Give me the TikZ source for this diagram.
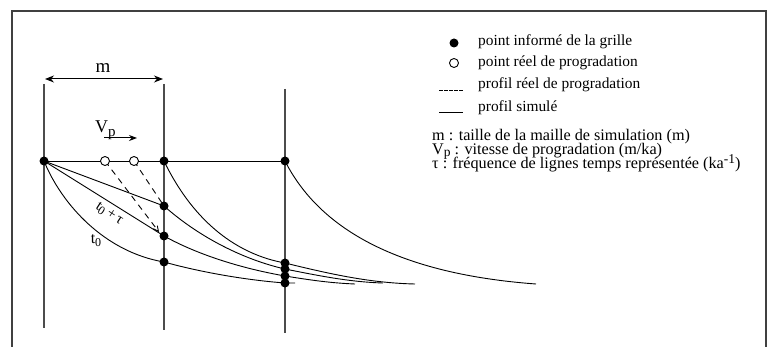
\documentclass[tikz,border=0pt]{standalone}
\usepackage{fontspec}
\setmainfont{Liberation Serif}
\usetikzlibrary{arrows.meta}
\begin{document}
\begin{tikzpicture}[x=1pt,y=-1pt,
  grid/.style={draw=black!70,line width=1.1pt},
  frame/.style={draw=black!75,line width=1.3pt},
  prof/.style={draw=black,line width=0.9pt},
  real/.style={draw=black,line width=0.9pt,dash pattern=on 6pt off 5pt},
  fdot/.style={circle,fill=black,inner sep=0pt,minimum size=9pt},
  odot/.style={circle,draw=black,fill=white,line width=0.9pt,inner sep=0pt,minimum size=9pt},
  leg/.style={anchor=base west,inner sep=0pt,font=\fontsize{15.4}{15.4}\selectfont},
  defn/.style={anchor=base west,inner sep=0pt,font=\fontsize{16.2}{16.2}\selectfont},
  lab/.style={inner sep=0pt}]
\useasboundingbox (0,0) rectangle (772,347);
% frame
\draw[frame] (12,360) -- (12,11) -- (766,11) -- (766,360);
% grid verticals
\coordinate (v1t) at (44,84);  \coordinate (v1b) at (44,328);
\coordinate (v2t) at (164,84); \coordinate (v2b) at (164,330);
\coordinate (v3t) at (285,89); \coordinate (v3b) at (285,333);
\draw[grid] (v1t) -- (v1b);
\draw[grid] (v2t) -- (v2b);
\draw[grid] (v3t) -- (v3b);
% points
\coordinate (A) at (44,161);
\coordinate (B0) at (164,161);
\coordinate (B1) at (164,206);
\coordinate (B2) at (164,236);
\coordinate (B3) at (164,262);
\coordinate (C1) at (285,263);
\coordinate (C2) at (285,269);
\coordinate (C3) at (285,276);
\coordinate (C4) at (285,283);
\coordinate (D0) at (285,161);
\coordinate (O1) at (105,161);
\coordinate (O2) at (134,161);
% horizontal line
\draw[prof] (A) -- (D0);
% profiles from first column
\draw[prof] (A) .. controls (84,176) and (124,191) .. (B1);
\draw[prof] (A) .. controls (84,186) and (124,211) .. (B2);
\draw[prof] (A) .. controls (62,205) and (105,252) .. (B3);
% continuations
\draw[prof] (B0) .. controls (195,225) and (240,255) .. (C1)
  .. controls (330,274) and (370,283) .. (415,284);
\draw[prof] (B1) .. controls (200,238) and (245,260) .. (C2)
  .. controls (320,276) and (350,282) .. (383,283);
\draw[prof] (B2) .. controls (200,256) and (245,269) .. (C3)
  .. controls (310,280) and (330,283) .. (355,284);
\draw[prof] (B3) .. controls (200,272) and (245,280) .. (C4) -- (295,283);
\draw[prof] (D0) .. controls (320,230) and (400,274) .. (536,284);
% real progradation (dashed)
\coordinate (E1) at (159,232);
\draw[real,-{Straight Barb[length=5pt,width=5pt]}] (O1) -- (E1);
\draw[real] (O2) -- (B1);
% dots
\foreach \p in {A,B0,B1,B2,B3,C1,C2,C3,C4,D0} \node[fdot] at (\p) {};
\node[odot] (o1) at (O1) {};
\node[odot] (o2) at (O2) {};
% m arrow
\coordinate (m1) at (45,79); \coordinate (m2) at (163,79);
\draw[line width=1pt,{Stealth[length=9pt,width=7pt]}-{Stealth[length=9pt,width=7pt]}] (m1) -- (m2);
\node[lab,font=\fontsize{19}{19}\selectfont] (mlab) at (103,68) {m};
% Vp arrow
\coordinate (p1) at (104,138); \coordinate (p2) at (137,138);
\draw[line width=1pt,-{Stealth[length=8pt,width=6pt]}] (p1) -- (p2);
\node[lab,anchor=base west,font=\fontsize{18}{18}\selectfont] (vplab) at (95,133) {V\raisebox{-4pt}{\fontsize{15}{15}\selectfont p}};
% curve labels
\node[lab,rotate=-33,font=\fontsize{15}{15}\selectfont] (tt) at (109,214) {t\raisebox{-3pt}{\fontsize{12}{12}\selectfont 0}\,+\,τ};
\node[lab,font=\fontsize{16}{16}\selectfont] (t0) at (96,241) {t\raisebox{-3pt}{\fontsize{12}{12}\selectfont 0}};
% legend
\node[fdot] (l1) at (454,43) {};
\node[leg] (lt1) at (478,46) {point informé de la grille};
\node[odot] (l2) at (454,63) {};
\node[leg] (lt2) at (478,66.5) {point réel de progradation};
\coordinate (l3a) at (439,90); \coordinate (l3b) at (463,90);
\draw[line width=0.9pt,dash pattern=on 4pt off 1pt] (l3a) -- (l3b);
\node[leg] (lt3) at (478,89) {profil réel de progradation};
\coordinate (l4a) at (439,112); \coordinate (l4b) at (463,112);
\draw[line width=0.9pt] (l4a) -- (l4b);
\node[leg] (lt4) at (478,111.5) {profil simulé};
% definitions
\node[defn] (d1) at (432,141) {m : taille de la maille de simulation (m)};
\node[defn] (d2) at (432,155) {V\raisebox{-1.5pt}{\fontsize{13.5}{13.5}\selectfont p} : vitesse de progradation (m/ka)};
\node[defn] (d3) at (432,169) {τ : fréquence de lignes temps représentée (ka\raisebox{5pt}{\fontsize{13.5}{13.5}\selectfont -1})};
\end{tikzpicture}
\end{document}
